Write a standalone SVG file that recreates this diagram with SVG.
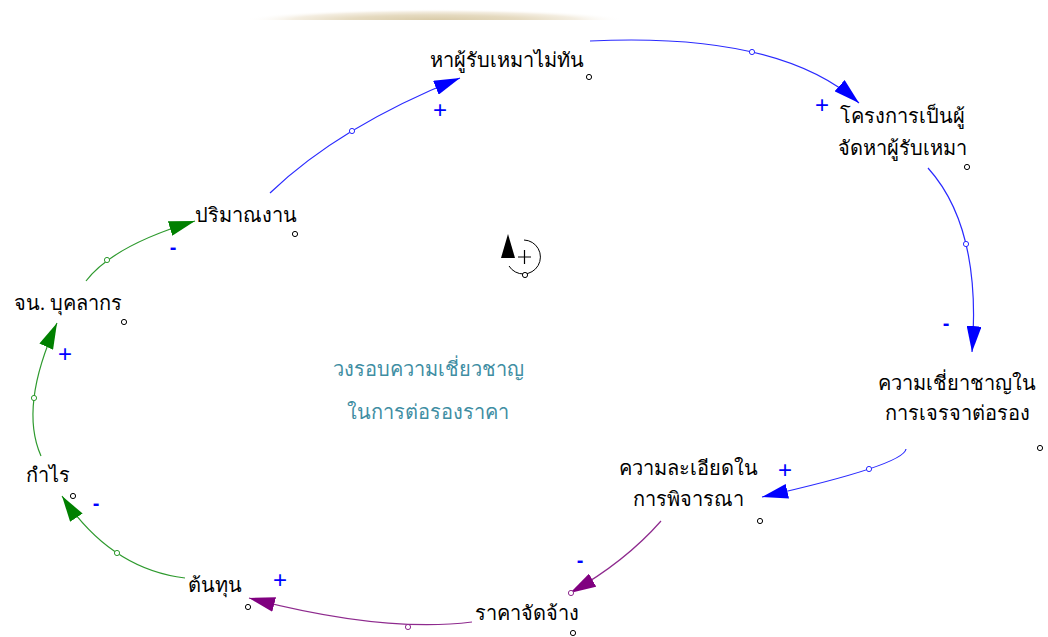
<svg xmlns="http://www.w3.org/2000/svg" width="1048" height="637" viewBox="0 0 1048 637">
  <defs>
    <radialGradient id="band">
      <stop offset="0" stop-color="#d9cba8"/>
      <stop offset="0.45" stop-color="#e5dac0"/>
      <stop offset="0.75" stop-color="#f4eee2"/>
      <stop offset="1" stop-color="#ffffff" stop-opacity="0"/>
    </radialGradient>
    <clipPath id="band-clip">
      <rect x="200" y="0" width="480" height="20"/>
    </clipPath>
    <marker id="ah-blue" markerUnits="userSpaceOnUse" markerWidth="26" markerHeight="15" viewBox="0 0 26 15" refX="26" refY="7.5" orient="auto">
      <path d="M0,0 L26,7.5 L0,15 Z" fill="#0000ff"/>
    </marker>
    <marker id="ah-green" markerUnits="userSpaceOnUse" markerWidth="26" markerHeight="15" viewBox="0 0 26 15" refX="26" refY="7.5" orient="auto">
      <path d="M0,0 L26,7.5 L0,15 Z" fill="#008000"/>
    </marker>
    <marker id="ah-purple" markerUnits="userSpaceOnUse" markerWidth="26" markerHeight="15" viewBox="0 0 26 15" refX="26" refY="7.5" orient="auto">
      <path d="M0,0 L26,7.5 L0,15 Z" fill="#800080"/>
    </marker>
  </defs>
  <style>
    .node { font-family: "Liberation Serif", "DejaVu Serif", serif; font-size: 20px; fill: #000; }
    .loop { font-family: "Noto Sans", "DejaVu Sans", sans-serif; font-size: 20px; fill: #3f8ea3; }
    .pin { fill: #fff; stroke: #000; stroke-width: 1; }
    .link { fill: none; stroke-width: 1.2; }
    .blue { stroke: #2a2aff; }
    .green { stroke: #2e9a2e; }
    .purple { stroke: #8e2a8e; }
    .handle { fill: #fff; stroke-width: 1; }
    .sign { font-family: "Liberation Sans", sans-serif; font-size: 24px; fill: #0000ff; text-anchor: middle; }
    .minus { font-family: "Liberation Sans", sans-serif; font-size: 20px; font-weight: bold; fill: #0000ff; text-anchor: middle; }
  </style>

  <rect width="1048" height="637" fill="#fff"/>
  <!-- faint header band -->
  <ellipse cx="435" cy="20" rx="190" ry="11" fill="url(#band)" clip-path="url(#band-clip)"/>

  <!-- connectors -->
  <g id="links">
    <path class="link blue" d="M270,193 Q339,126.5 460,78" marker-end="url(#ah-blue)"/>
    <path class="link blue" d="M590,41 Q779.5,32 859,103" marker-end="url(#ah-blue)"/>
    <path class="link blue" d="M928,168 Q982,228 972,352" marker-end="url(#ah-blue)"/>
    <path class="link blue" d="M906,449 Q904,465 762,497" marker-end="url(#ah-blue)"/>
    <path class="link purple" d="M661,521 Q625,562 570,593" marker-end="url(#ah-purple)"/>
    <path class="link purple" d="M472,622 Q383,633 249,598" marker-end="url(#ah-purple)"/>
    <path class="link green" d="M185,578 Q110.5,569 62,496" marker-end="url(#ah-green)"/>
    <path class="link green" d="M41,456 Q19,406.5 57,323" marker-end="url(#ah-green)"/>
    <path class="link green" d="M86,281 Q113,245.5 195,221" marker-end="url(#ah-green)"/>

    <circle class="handle" cx="352" cy="131" r="2.6" stroke="#2a2aff"/>
    <circle class="handle" cx="752" cy="52" r="2.6" stroke="#2a2aff"/>
    <circle class="handle" cx="966" cy="244" r="2.6" stroke="#2a2aff"/>
    <circle class="handle" cx="869" cy="469" r="2.6" stroke="#2a2aff"/>
    <circle class="handle" cx="571" cy="593" r="2.6" stroke="#8e2a8e"/>
    <circle class="handle" cx="408" cy="627" r="2.6" stroke="#8e2a8e"/>
    <circle class="handle" cx="117" cy="553" r="2.6" stroke="#2e9a2e"/>
    <circle class="handle" cx="34" cy="398" r="2.6" stroke="#2e9a2e"/>
    <circle class="handle" cx="107" cy="260" r="2.6" stroke="#2e9a2e"/>

    <text class="sign" x="440" y="118">+</text>
    <text class="sign" x="822" y="113">+</text>
    <text class="minus" x="946" y="330">-</text>
    <text class="sign" x="785" y="478">+</text>
    <text class="minus" x="580" y="567">-</text>
    <text class="sign" x="280" y="588">+</text>
    <text class="minus" x="96" y="510">-</text>
    <text class="sign" x="65" y="362">+</text>
    <text class="minus" x="173" y="254">-</text>
  </g>

  <!-- variables -->
  <g id="n-contractor-short">
    <text class="node" x="430" y="67">หาผู้รับเหมาไม่ทัน</text>
    <circle class="pin" cx="589" cy="77" r="2.6"/>
  </g>
  <g id="n-project-sourcing">
    <text class="node" x="902" y="123" text-anchor="middle">โครงการเป็นผู้</text>
    <text class="node" x="902" y="155" text-anchor="middle">จัดหาผู้รับเหมา</text>
    <circle class="pin" cx="967" cy="167" r="2.6"/>
  </g>
  <g id="n-negotiation-skill">
    <text class="node" x="957" y="390" text-anchor="middle">ความเชี่ยาชาญใน</text>
    <text class="node" x="957" y="420" text-anchor="middle">การเจรจาต่อรอง</text>
    <circle class="pin" cx="1040" cy="448" r="2.6"/>
  </g>
  <g id="n-review-detail">
    <text class="node" x="688" y="475" text-anchor="middle">ความละเอียดใน</text>
    <text class="node" x="688" y="506" text-anchor="middle">การพิจารณา</text>
    <circle class="pin" cx="760" cy="521" r="2.6"/>
  </g>
  <g id="n-contract-price">
    <text class="node" x="475" y="620">ราคาจัดจ้าง</text>
    <circle class="pin" cx="573" cy="633" r="2.6"/>
  </g>
  <g id="n-cost">
    <text class="node" x="188" y="592">ต้นทุน</text>
    <circle class="pin" cx="248" cy="607" r="2.6"/>
  </g>
  <g id="n-profit">
    <text class="node" x="26" y="482">กำไร</text>
    <circle class="pin" cx="73" cy="496" r="2.6"/>
  </g>
  <g id="n-staff">
    <text class="node" x="14" y="310">จน. บุคลากร</text>
    <circle class="pin" cx="124" cy="322" r="2.6"/>
  </g>
  <g id="n-workload">
    <text class="node" x="195" y="222">ปริมาณงาน</text>
    <circle class="pin" cx="295" cy="234" r="2.6"/>
  </g>

  <!-- loop marker -->
  <g id="loop-symbol">
    <path d="M524,240 A17,17 0 1 1 509,266" fill="none" stroke="#000" stroke-width="1"/>
    <path d="M508,234 L515,258 L501,258 Z" fill="#000"/>
    <path d="M518,257 H531 M524.5,250 V264" stroke="#000" stroke-width="1.2"/>
    <circle cx="525" cy="275" r="2.6" fill="#fff" stroke="#000"/>
  </g>

  <g id="loop-label">
    <text class="loop" x="428" y="376" text-anchor="middle">วงรอบความเชี่ยวชาญ</text>
    <text class="loop" x="428" y="419" text-anchor="middle">ในการต่อรองราคา</text>
  </g>
</svg>
